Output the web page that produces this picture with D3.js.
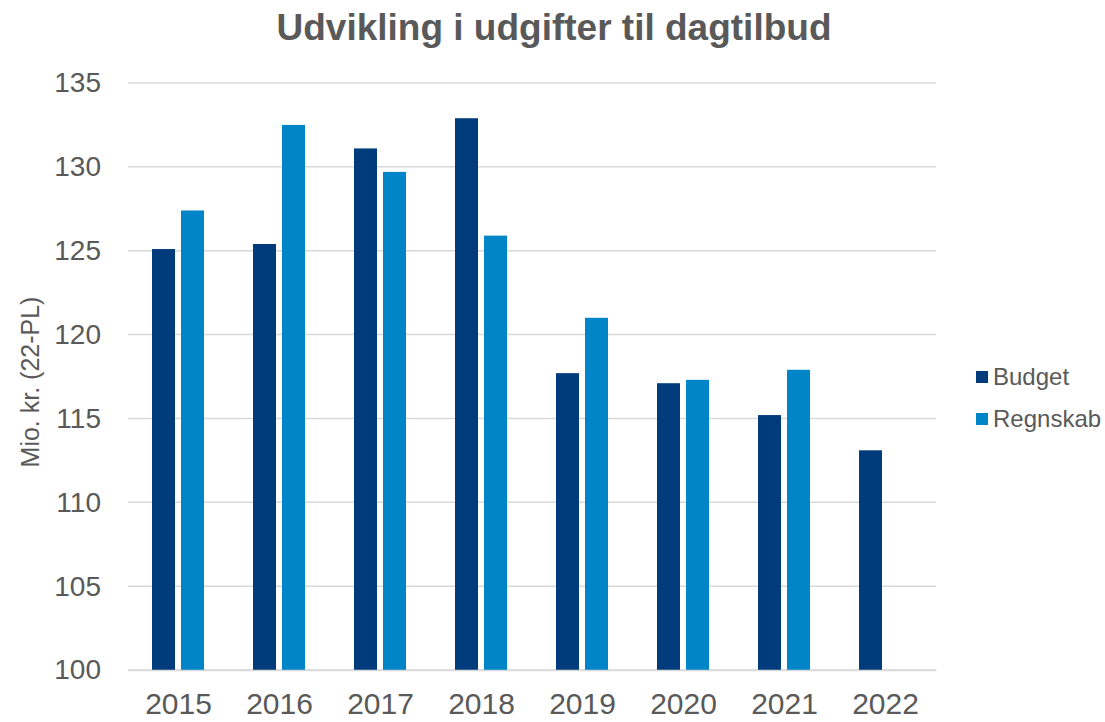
<!DOCTYPE html>
<html>
<head>
<meta charset="utf-8">
<script src="https://cdn.jsdelivr.net/npm/d3@7"></script>
<style>
  body { margin: 0; background: #fff; }
  svg { display: block; font-family: "Liberation Sans", Arial, sans-serif; }
</style>
</head>
<body>
<svg id="chart" width="1105" height="722"></svg>
<script>
(() => {

// data
const years = ["2015", "2016", "2017", "2018", "2019", "2020", "2021", "2022"];
const series = ["Budget", "Regnskab"];
const budget = [125.1, 125.4, 131.1, 132.9, 117.7, 117.1, 115.2, 113.1];
const regnskab = [127.4, 132.5, 129.7, 125.9, 121.0, 117.3, 117.9, null];
const yTicks = [100, 105, 110, 115, 120, 125, 130, 135];
const colors = { Budget: "#003c7b", Regnskab: "#0085c8" };

const rows = years.map((y, i) => ({ year: y, Budget: budget[i], Regnskab: regnskab[i] }));

const svg = d3.select("#chart");
const textColor = "#595959";

const x0 = d3.scaleBand().domain(years).range([128, 936]);
const x1 = d3.scaleBand().domain(series).range([24, 76]).paddingInner(6 / 29);
const y = d3.scaleLinear().domain([100, 135]).range([670, 83]);

// gridlines
svg.append("g")
  .selectAll("line")
  .data(yTicks)
  .join("line")
  .attr("x1", 128).attr("x2", 936)
  .attr("y1", d => y(d)).attr("y2", d => y(d))
  .attr("stroke", "#d9d9d9")
  .attr("stroke-width", 1.5);

// bars
svg.append("g")
  .selectAll("g")
  .data(rows)
  .join("g")
  .attr("transform", d => `translate(${x0(d.year)},0)`)
  .selectAll("rect")
  .data(d => series.filter(s => d[s] != null).map(s => ({ key: s, value: d[s] })))
  .join("rect")
  .attr("x", d => x1(d.key))
  .attr("width", x1.bandwidth())
  .attr("y", d => y(d.value))
  .attr("height", d => y(100) - y(d.value))
  .attr("fill", d => colors[d.key]);

// y axis
const yAxis = svg.append("g")
  .attr("transform", "translate(128,0)")
  .call(d3.axisLeft(y).tickValues(yTicks).tickSize(0).tickPadding(27));
yAxis.select(".domain").remove();
yAxis.selectAll("text")
  .attr("fill", textColor)
  .style("font-size", "28px")
  .style("font-family", "Liberation Sans, Arial, sans-serif");

// x axis
const xAxis = svg.append("g")
  .attr("transform", "translate(0,670)")
  .call(d3.axisBottom(x0).tickSize(0).tickPadding(23));
xAxis.select(".domain")
  .attr("stroke", "#d9d9d9")
  .attr("stroke-width", 1.5);
xAxis.selectAll("text")
  .attr("fill", textColor)
  .style("font-size", "30px")
  .style("font-family", "Liberation Sans, Arial, sans-serif");

// title
svg.append("text")
  .attr("x", 554).attr("y", 40)
  .attr("text-anchor", "middle")
  .attr("fill", textColor)
  .style("font-size", "37px")
  .style("font-weight", "bold")
  .text("Udvikling i udgifter til dagtilbud");

// y axis title
svg.append("text")
  .attr("transform", "translate(39,382) rotate(-90)")
  .attr("text-anchor", "middle")
  .attr("fill", textColor)
  .style("font-size", "25px")
  .text("Mio. kr. (22-PL)");

// legend
const legend = svg.append("g")
  .selectAll("g")
  .data(series)
  .join("g")
  .attr("transform", (d, i) => `translate(976,${371 + i * 42})`);
legend.append("rect")
  .attr("width", 12).attr("height", 12)
  .attr("fill", d => colors[d]);
legend.append("text")
  .attr("x", 17).attr("y", 14)
  .attr("fill", textColor)
  .style("font-size", "24px")
  .text(d => d);

})();
</script>
</body>
</html>
